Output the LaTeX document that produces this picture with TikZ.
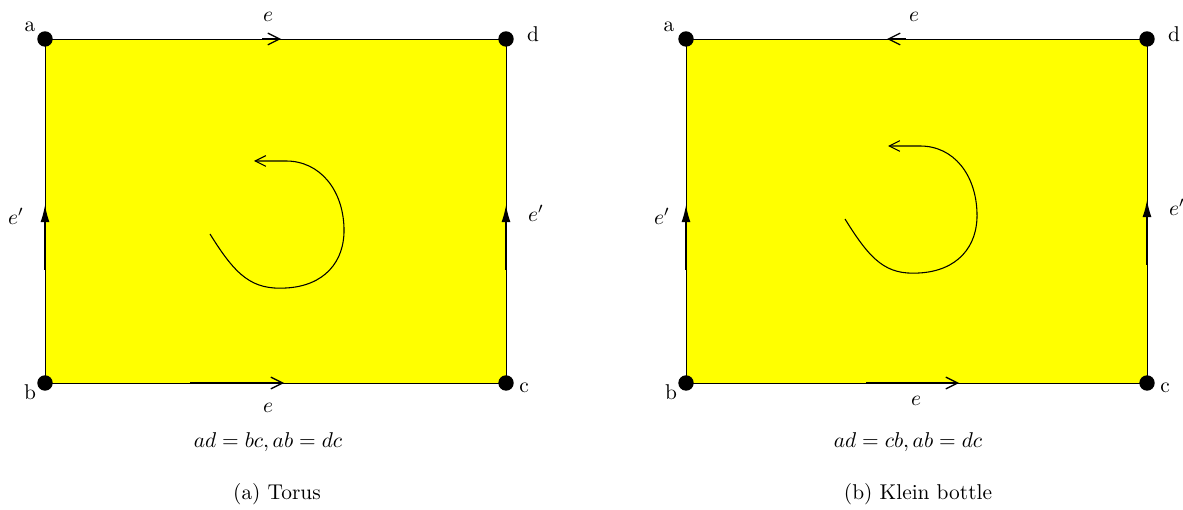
\documentclass[tikz,border=0pt]{standalone}
\usetikzlibrary{arrows.meta}
\definecolor{pureyellow}{RGB}{255,255,0}
\begin{document}
\begin{tikzpicture}[x=0.4673pt,y=-0.4673pt,
  dot/.style={circle,fill=black,inner sep=0pt,minimum size=7.2pt},
  vlab/.style={inner sep=0pt},
  edge/.style={line width=0.35pt},
  openarr/.style={-{Straight Barb[length=5.5pt,width=5.5pt]},line width=0.6pt},
  fillarr/.style={-{Latex[length=8pt,width=4.2pt]},line width=0.6pt},
  spin/.style={-{Straight Barb[length=5pt,width=5pt]},line width=0.5pt}]
\useasboundingbox (0,0) rectangle (1183,510);
% ---------- Left: torus ----------
\fill[pureyellow] (45,39) rectangle (506,383);
\coordinate (La) at (45,39);
\coordinate (Ld) at (506,39);
\coordinate (Lb) at (45,383);
\coordinate (Lc) at (506,383);
\draw[edge] (La) -- (Ld) -- (Lc) -- (Lb) -- cycle;
\coordinate (Lt1) at (262,39); \coordinate (Lt2) at (281,39);
\draw[openarr] (Lt1) -- (Lt2);
\coordinate (Lb1) at (190,383); \coordinate (Lb2) at (284,383);
\draw[openarr] (Lb1) -- (Lb2);
\coordinate (Ll1) at (45,270); \coordinate (Ll2) at (45,205);
\draw[fillarr] (Ll1) -- (Ll2);
\coordinate (Lr1) at (506,270); \coordinate (Lr2) at (506,205);
\draw[fillarr] (Lr1) -- (Lr2);
\node[dot] (Pa) at (La) {};
\node[dot] (Pd) at (Ld) {};
\node[dot] (Pb) at (Lb) {};
\node[dot] (Pc) at (Lc) {};
\node[vlab] (la) at (30,27) {a};
\node[vlab] (ld) at (533,34) {d};
\node[vlab] (lb) at (30,392) {b};
\node[vlab] (lc) at (524,388) {c};
\node[vlab] (ltop) at (268,17) {$e$};
\node[vlab] (lbot) at (268,408) {$e$};
\node[vlab] (lleft) at (16,216) {$e'$};
\node[vlab] (lright) at (536,213) {$e'$};
\coordinate (Ls) at (210,234);
\coordinate (Le) at (254,161);
\draw[spin] (Ls) .. controls (236,276) and (252,290) .. (286,288)
  .. controls (324,286) and (345,262) .. (344,228)
  .. controls (343,190) and (320,161) .. (286,161) -- (Le);
\node (lcap1) at (268,442) {$ad=bc, ab=dc$};
\node (lcap2) at (277,494) {(a) Torus};
% ---------- Right: Klein bottle ----------
\fill[pureyellow] (686,39) rectangle (1147,383);
\coordinate (Ra) at (686,39);
\coordinate (Rd) at (1147,39);
\coordinate (Rb) at (686,383);
\coordinate (Rc) at (1147,383);
\draw[edge] (Ra) -- (Rd) -- (Rc) -- (Rb) -- cycle;
\coordinate (Rt1) at (906,39); \coordinate (Rt2) at (887,39);
\draw[openarr] (Rt1) -- (Rt2);
\coordinate (Rb1) at (866,383); \coordinate (Rb2) at (959,383);
\draw[openarr] (Rb1) -- (Rb2);
\coordinate (Rl1) at (686,270); \coordinate (Rl2) at (686,205);
\draw[fillarr] (Rl1) -- (Rl2);
\coordinate (Rr1) at (1147,265); \coordinate (Rr2) at (1147,200);
\draw[fillarr] (Rr1) -- (Rr2);
\node[dot] (Qa) at (Ra) {};
\node[dot] (Qd) at (Rd) {};
\node[dot] (Qb) at (Rb) {};
\node[dot] (Qc) at (Rc) {};
\node[vlab] (ra) at (669,27) {a};
\node[vlab] (rd) at (1174,34) {d};
\node[vlab] (rb) at (671,392) {b};
\node[vlab] (rc) at (1165,388) {c};
\node[vlab] (rtop) at (914,17) {$e$};
\node[vlab] (rbot) at (916,401) {$e$};
\node[vlab] (rleft) at (662,216) {$e'$};
\node[vlab] (rright) at (1177,207) {$e'$};
\coordinate (Rs) at (845,219);
\coordinate (Re) at (888,146);
\draw[spin] (Rs) .. controls (871,261) and (886,275) .. (919,273)
  .. controls (957,271) and (978,247) .. (977,213)
  .. controls (976,175) and (954,146) .. (920,146) -- (Re);
\node (rcap1) at (908,442) {$ad=cb, ab=dc$};
\node (rcap2) at (918,494) {(b) Klein bottle};
\end{tikzpicture}
\end{document}
